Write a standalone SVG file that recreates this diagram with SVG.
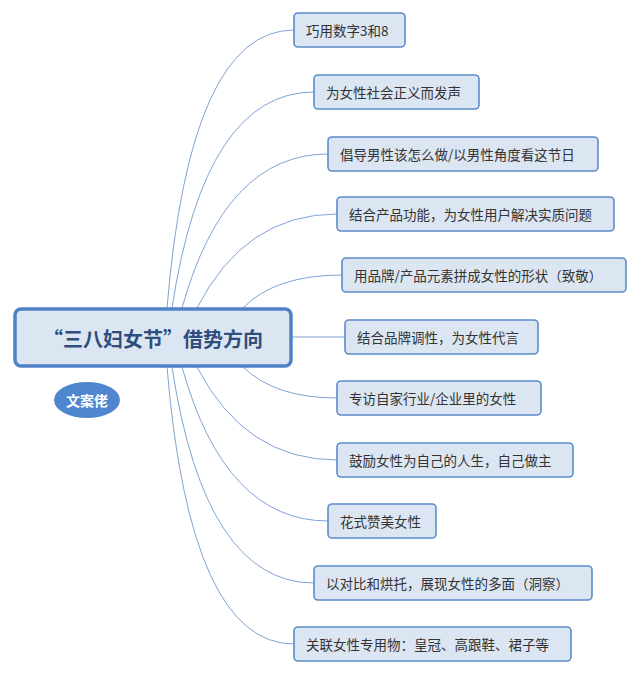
<svg xmlns="http://www.w3.org/2000/svg" width="640" height="675" viewBox="0 0 640 675">
<style>
.bg{fill:#ffffff}
.conn path{fill:none;stroke:#7fa4d3;stroke-width:1}
.box{fill:#dce6f2;stroke:#5b8cc9;stroke-width:1.6}
.t{font-family:"Noto Sans CJK SC","Noto Sans",sans-serif;font-size:13.5px;fill:#333333;dominant-baseline:central}
.root{fill:#dce6f2;stroke:#4f81c7;stroke-width:3.5}
.rt{font-family:"Noto Sans CJK SC","Noto Sans",sans-serif;font-size:20px;font-weight:bold;fill:#2e4e7e;text-anchor:middle;dominant-baseline:central}
.el{fill:#4f86cf}
.et{font-family:"Noto Sans CJK SC","Noto Sans",sans-serif;font-size:14px;font-weight:bold;fill:#ffffff;text-anchor:middle;dominant-baseline:central}
</style>
<rect class="bg" width="640" height="675"/>
<g id="connectors" class="conn">
<path d="M167,308 Q190,30 294,30"/>
<path d="M172,308 Q205,92 314,92"/>
<path d="M182,308 Q225,154 328,154"/>
<path d="M197,308 Q245,214 337,214"/>
<path d="M243,308 Q275,275 342,275"/>
<path d="M292,337 L345,337"/>
<path d="M243,367 Q275,398 337,398"/>
<path d="M197,367 Q245,460 337,460"/>
<path d="M182,367 Q225,521 328,521"/>
<path d="M172,367 Q205,583 314,583"/>
<path d="M167,367 Q190,644 294,644"/>
</g>
<g id="root">
<rect class="root" x="15" y="309" width="276" height="57" rx="6"/>
<text class="rt" x="153" y="338">“三八妇女节”借势方向</text>
</g>
<g id="author">
<ellipse class="el" cx="87" cy="400" rx="33" ry="18"/>
<text class="et" x="87" y="400">文案佬</text>
</g>
<g id="n1"><rect class="box" x="294" y="13" width="111" height="34" rx="4"/><text class="t" x="306" y="30">巧用数字3和8</text></g>
<g id="n2"><rect class="box" x="314" y="75" width="165" height="34" rx="4"/><text class="t" x="326" y="92">为女性社会正义而发声</text></g>
<g id="n3"><rect class="box" x="328" y="137" width="270" height="34" rx="4"/><text class="t" x="340" y="154">倡导男性该怎么做/以男性角度看这节日</text></g>
<g id="n4"><rect class="box" x="337" y="197" width="277" height="34" rx="4"/><text class="t" x="349" y="214">结合产品功能，为女性用户解决实质问题</text></g>
<g id="n5"><rect class="box" x="342" y="258" width="284" height="34" rx="4"/><text class="t" x="354" y="275">用品牌/产品元素拼成女性的形状（致敬）</text></g>
<g id="n6"><rect class="box" x="345" y="320" width="193" height="34" rx="4"/><text class="t" x="357" y="337">结合品牌调性，为女性代言</text></g>
<g id="n7"><rect class="box" x="337" y="381" width="204" height="34" rx="4"/><text class="t" x="349" y="398">专访自家行业/企业里的女性</text></g>
<g id="n8"><rect class="box" x="337" y="443" width="236" height="34" rx="4"/><text class="t" x="349" y="460">鼓励女性为自己的人生，自己做主</text></g>
<g id="n9"><rect class="box" x="328" y="504" width="108" height="34" rx="4"/><text class="t" x="340" y="521">花式赞美女性</text></g>
<g id="n10"><rect class="box" x="314" y="566" width="278" height="34" rx="4"/><text class="t" x="326" y="583">以对比和烘托，展现女性的多面（洞察）</text></g>
<g id="n11"><rect class="box" x="294" y="627" width="277" height="34" rx="4"/><text class="t" x="306" y="644">关联女性专用物：皇冠、高跟鞋、裙子等</text></g>
</svg>
